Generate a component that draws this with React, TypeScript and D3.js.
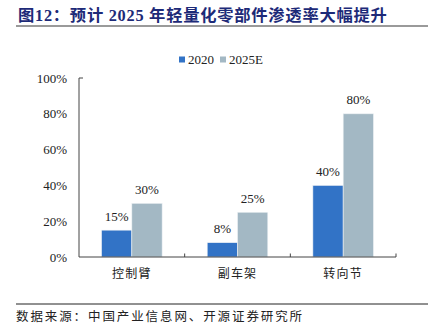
import React from "react";
import * as d3 from "d3";

const categories = ["控制臂", "副车架", "转向节"];
const seriesNames = ["2020", "2025E"];
const values2020 = [15, 8, 40];
const values2025E = [30, 25, 80];
const yTicks = [0, 20, 40, 60, 80, 100];
const titleText = "图12：预计 2025 年轻量化零部件渗透率大幅提升";
const sourceText = "数据来源：中国产业信息网、开源证券研究所";

const colors = ["#3273C6", "#A3B8C4"];
const serif = "'Liberation Serif', 'Times New Roman', serif";
const cjk = "'Noto Sans CJK SC', sans-serif";

export default function App() {
  const W = 432, H = 336;
  const left = 79, right = 396, top = 78, bottom = 257;
  const x0 = d3.scaleBand<string>().domain(categories).range([left, right]).padding(0);
  const x1 = d3.scaleBand<string>().domain(seriesNames).range([0, x0.step()]).paddingInner(0).paddingOuter(0.744);
  const y = d3.scaleLinear().domain([0, 100]).range([bottom, top]);
  const series = [values2020, values2025E];

  return (
    <svg width={W} height={H} style={{ position: "absolute", left: 0, top: 0, background: "#fff" }}>
      <text x={18} y={21} fontFamily={`${serif}, ${cjk}`} fontWeight="bold" fontSize={16.3} letterSpacing={0.75} fill="#1D2A78">
        {titleText}
      </text>
      <rect x={16} y={25} width={412} height={2} fill="#9A9A9A" />

      {/* legend */}
      {seriesNames.map((s, i) => {
        const lx = [179, 220][i];
        return (
          <g key={s}>
            <rect x={lx} y={56.5} width={6} height={6} fill={colors[i]} />
            <text x={lx + 9} y={64} fontFamily={serif} fontSize={13} fill="#222">{s}</text>
          </g>
        );
      })}

      {/* bars */}
      {categories.map((c, ci) => (
        <g key={c}>
          {series.map((vals, si) => {
            const bx = (x0(c) as number) + (x1(seriesNames[si]) as number);
            const by = y(vals[ci]);
            return (
              <g key={si}>
                <rect x={bx} y={by} width={x1.bandwidth()} height={bottom - by} fill={colors[si]} stroke="#EEF2F5" strokeWidth={0.6} />
                <text x={bx + x1.bandwidth() / 2} y={by - 9.5} textAnchor="middle" fontFamily={serif} fontSize={13} fill="#222">
                  {vals[ci] + "%"}
                </text>
              </g>
            );
          })}
        </g>
      ))}

      {/* y axis */}
      <line x1={left} x2={left} y1={top} y2={bottom} stroke="#444" strokeWidth={1} />
      <line x1={left} x2={left + 4} y1={top} y2={top} stroke="#444" strokeWidth={1} />
      {yTicks.map((t) => (
        <text key={t} x={67} y={y(t)} dy="0.35em" textAnchor="end" fontFamily={serif} fontSize={13} fill="#222">
          {t + "%"}
        </text>
      ))}

      {/* x axis */}
      <line x1={left} x2={right} y1={bottom} y2={bottom} stroke="#444" strokeWidth={1} />
      {categories.map((c) => {
        const tx = (x0(c) as number) + x0.step();
        return <line key={c} x1={tx} x2={tx} y1={bottom} y2={bottom - 3.5} stroke="#444" strokeWidth={1} />;
      })}
      {categories.map((c) => (
        <text key={c} x={(x0(c) as number) + x0.step() / 2} y={278} textAnchor="middle" fontFamily={cjk} fontSize={12} letterSpacing={1.2} fill="#222">
          {c}
        </text>
      ))}

      <line x1={16} x2={428} y1={304} y2={304} stroke="#222" strokeWidth={1} />
      <text x={16} y={321} fontFamily={cjk} fontSize={12.5} letterSpacing={1.9} fill="#222">
        {sourceText}
      </text>
    </svg>
  );
}
